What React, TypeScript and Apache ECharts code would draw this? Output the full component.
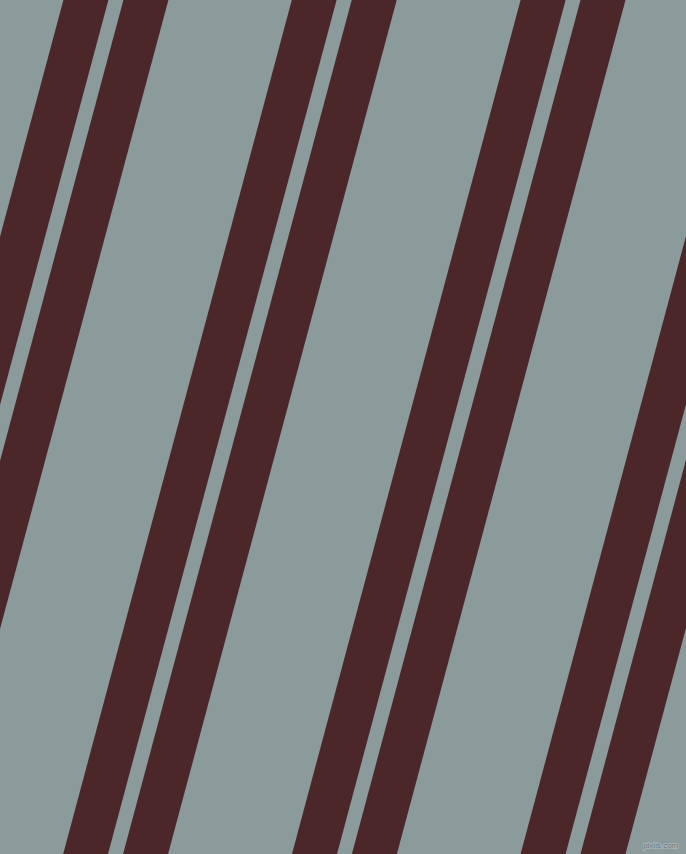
import { useRef, useEffect } from 'react';
import * as echarts from 'echarts';

// left edge of each stripe where it meets the top row (px in data space)
const stripeTopX = [-165.2, -105.2, 63.4, 123.4, 291.8, 351.7, 520.6, 580.5, 749.2, 809.1];
// horizontal width of each stripe
const stripeWidth = [45, 45, 45, 45, 44.8, 45, 45, 45, 45, 45];
// how far a stripe drifts left from top to bottom
const bottomShift = 228.6;

const W = 686;
const H = 854;

const App: React.FC = () => {
    const chartRef = useRef<HTMLDivElement>(null);

    useEffect(() => {
        if (!chartRef.current) return;
        const chart = echarts.init(chartRef.current, undefined, { renderer: 'svg' });

        const data = stripeTopX.map((x, i) => [x, stripeWidth[i]]);

        const option: echarts.EChartsOption = {
            animation: false,
            backgroundColor: '#8B9B9C',
            grid: { left: 0, right: 0, top: 0, bottom: 0 },
            xAxis: { type: 'value', min: 0, max: W, show: false },
            yAxis: { type: 'value', min: 0, max: H, inverse: true, show: false },
            series: [
                {
                    type: 'custom',
                    clip: true,
                    data,
                    renderItem: (params: any, api: any) => {
                        const x0 = api.value(0);
                        const w = api.value(1);
                        const pts = [
                            api.coord([x0, 0]),
                            api.coord([x0 + w, 0]),
                            api.coord([x0 + w - bottomShift, H]),
                            api.coord([x0 - bottomShift, H]),
                        ];
                        return {
                            type: 'polygon',
                            shape: { points: pts },
                            style: { fill: '#4B272A' },
                        };
                    },
                },
            ],
            graphic: [
                {
                    type: 'text',
                    right: 7,
                    bottom: 4,
                    z: 100,
                    style: {
                        text: 'pixlis.com',
                        fill: '#687273',
                        stroke: '#AEB9BA',
                        lineWidth: 1.5,
                        font: '8px "Liberation Sans", sans-serif',
                    },
                },
            ],
        };

        chart.setOption(option);
        return () => {
            chart.dispose();
        };
    }, []);

    return (
        <div
            ref={chartRef}
            style={{ position: 'fixed', left: 0, top: 0, width: W + 'px', height: H + 'px' }}
        />
    );
};

export default App;
